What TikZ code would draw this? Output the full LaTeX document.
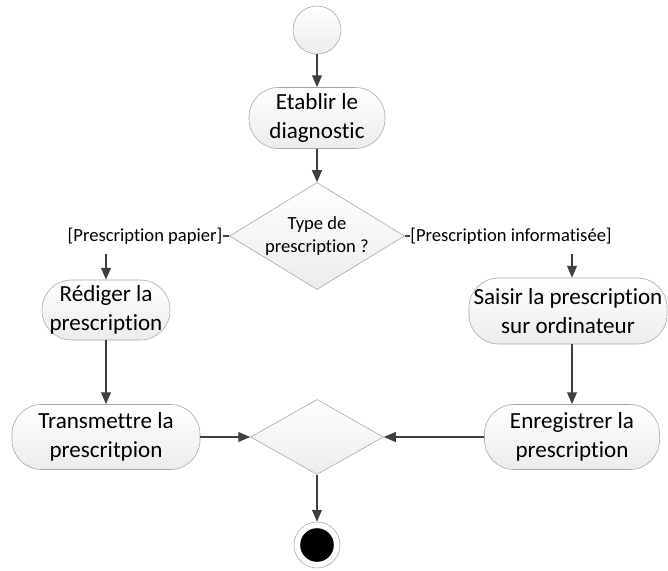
\documentclass[tikz,border=0pt]{standalone}
\usepackage{fontspec}
\setmainfont[Ligatures=NoCommon]{Carlito}
\usetikzlibrary{shapes.geometric}
\usetikzlibrary{arrows.meta}

\tikzset{
  startstate/.style={circle, draw=gray!70, top color=white, bottom color=gray!15, minimum size=1.2cm, inner sep=0pt},
  endstate/.style={circle, draw=gray!70, fill=white, minimum size=1.15cm, inner sep=0pt,
    path picture={\fill[black] (path picture bounding box.center) circle (0.42cm);}},
  activity/.style={rectangle, rounded corners=0.74cm, draw=gray!70, top color=white, bottom color=gray!15,
    align=center, inner sep=0pt, font=\fontsize{16.4}{21}\selectfont},
  decision/.style={diamond, draw=gray!70, top color=white, bottom color=gray!15, inner sep=0pt},
  guard/.style={inner sep=0pt, align=center, font=\fontsize{13.2}{16.3}\selectfont},
  flow/.style={draw=black!75, line width=1pt, -{Triangle[length=8.5pt,width=7pt]}},
  plain/.style={draw=black!75, line width=1pt},
}

\begin{document}
\begin{tikzpicture}[x=0.025cm, y=-0.025cm] % coordinates in pixels of the original
        \useasboundingbox (0,0) rectangle (668,570);
        \node[startstate] (start) at (317,30) {};
        \node[activity, minimum width=3.4cm, minimum height=1.525cm] (etablir) at (317,118) {Etablir le\\diagnostic};
        \node[decision, minimum width=4.375cm, minimum height=2.675cm,
              label={[guard]center:Type de\\prescription ?}] (type) at (317,236) {};
        \node[guard] (papier) at (145,236) {[Prescription papier]};
        \node[guard] (info) at (511,236) {[Prescription informatisée]};

        \node[activity, minimum width=3.2cm, minimum height=1.5cm] (rediger) at (106,310) {Rédiger la\\prescription};
        \node[activity, minimum width=4.7cm, minimum height=1.625cm] (transmettre) at (106,437) {Transmettre la\\prescritpion};
        \node[activity, minimum width=4.95cm, minimum height=1.65cm] (saisir) at (568,311) {Saisir la prescription\\sur ordinateur};
        \node[activity, minimum width=4.375cm, minimum height=1.625cm] (enregistrer) at (572,437) {Enregistrer la\\prescription};

        \node[decision, minimum width=3.325cm, minimum height=1.875cm] (merge) at (317,437) {};
        \node[endstate] (end) at (317,545) {};

        \draw[flow] (start) -- (etablir);
        \draw[flow] (etablir) -- (type);
        \draw[plain] (type.west) -- (papier.east);
        \draw[plain] (type.east) -- (info.west);
        \draw[flow] ([yshift=-0.25cm]papier.south -| rediger) -- (rediger);
        \draw[flow] ([yshift=-0.25cm]info.south -| enregistrer) -- (enregistrer.north |- saisir.north);
        \draw[flow] (rediger) -- (transmettre);
        \draw[flow] (saisir.south -| enregistrer) -- (enregistrer);
        \draw[flow] (transmettre) -- (merge);
        \draw[flow] (enregistrer) -- (merge);
        \draw[flow] (merge) -- (end);
\end{tikzpicture}
\end{document}
